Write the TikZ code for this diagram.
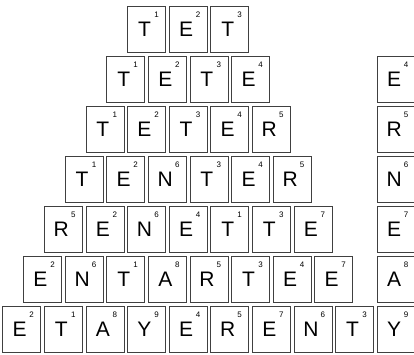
\documentclass[tikz,border=0pt]{standalone}
\usepackage{fontspec}
\setmainfont{Liberation Sans}
\usetikzlibrary{positioning}

% one row of tiles: row, offset, letter/score list
\newcommand{\tilerow}[3]{%
  \foreach \l/\n [count=\c from 0] in {#3} {
    \node[tile] (t#1-\c) at ({21.7+41.6*(\c+#2)}, {324.75-50*#1}) {};
    \node[letter] (l#1-\c) at ([xshift=-2pt]t#1-\c.center) {\l};
    \node[score] (s#1-\c) at ([xshift=10pt, yshift=14.2pt]t#1-\c.center) {\n};
  }%
}

\begin{document}
\begin{tikzpicture}[
    x=1pt, y=1pt,
    tile/.style={rectangle, draw=black!75, line width=0.7pt, minimum width=38pt, minimum height=45.5pt, inner sep=0pt},
    letter/.style={inner sep=0pt, font=\fontsize{21}{21}\selectfont},
    score/.style={inner sep=0pt, font=\fontsize{8}{8}\selectfont}
]
    \useasboundingbox (0,0) rectangle (414,354);
    \clip (0,0) rectangle (414,354);

    % the pyramid
    \tilerow{0}{3}{T/1,E/2,T/3}
    \tilerow{1}{2.5}{T/1,E/2,T/3,E/4}
    \tilerow{2}{2}{T/1,E/2,T/3,E/4,R/5}
    \tilerow{3}{1.5}{T/1,E/2,N/6,T/3,E/4,R/5}
    \tilerow{4}{1}{R/5,E/2,N/6,E/4,T/1,T/3,E/7}
    \tilerow{5}{0.5}{E/2,N/6,T/1,A/8,R/5,T/3,E/4,E/7}
    \tilerow{6}{0}{E/2,T/1,A/8,Y/9,E/4,R/5,E/7,N/6,T/3}

    % added letters on the right
    \foreach \l/\n [count=\r] in {E/4,R/5,N/6,E/7,A/8,Y/9} {
        \node[tile] (c\r) at ({21.7+41.6*9}, {324.75-50*\r}) {};
        \node[letter] (cl\r) at ([xshift=-2pt]c\r.center) {\l};
        \node[score] (cs\r) at ([xshift=10pt, yshift=14.2pt]c\r.center) {\n};
    }
\end{tikzpicture}
\end{document}
